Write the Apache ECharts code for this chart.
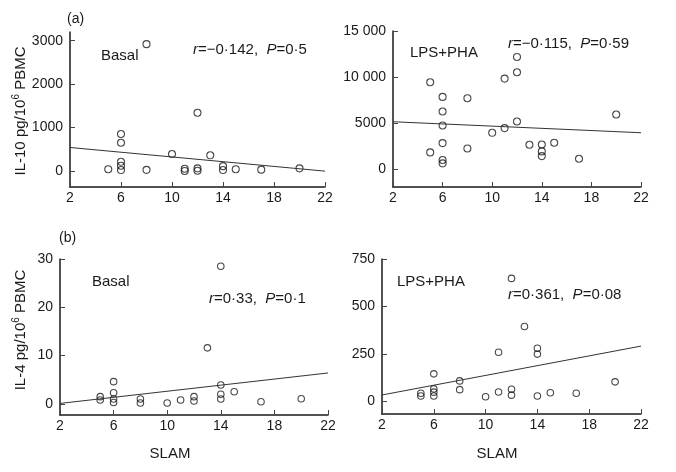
<!DOCTYPE html>
<html>
<head>
<meta charset="utf-8">
<script src="https://cdn.jsdelivr.net/npm/echarts@6/dist/echarts.min.js"></script>
<style>
  html, body { margin: 0; padding: 0; background: #fff; }
  #chart { width: 676px; height: 472px; }
</style>
</head>
<body>
<div id="chart"></div>
<script>
// SLAM score vs cytokine, [slam, value]
const il10Basal = [
  [5, 40], [6, 850], [6, 650], [6, 210], [6, 120], [6, 20], [8, 2920], [8, 25],
  [10, 390], [11, 50], [11, 0], [12, 1340], [12, 60], [12, 5], [13, 360],
  [14, 110], [14, 20], [15, 40], [17, 30], [20, 60]
];
const il10Lps = [
  [5, 9430], [5, 1810], [6, 7840], [6, 6250], [6, 4730], [6, 2820], [6, 980], [6, 620],
  [8, 7700], [8, 2240], [10, 3940], [11, 9830], [11, 4450], [12, 12180], [12, 10520],
  [12, 5170], [13, 2640], [14, 2670], [14, 1920], [14, 1410], [15, 2860], [17, 1120], [20, 5930]
];
const il4Basal = [
  [5, 1.5], [5, 0.8], [6, 4.6], [6, 2.3], [6, 1.0], [6, 0.3], [8, 1.0], [8, 0.2],
  [10, 0.2], [11, 0.8], [12, 1.5], [12, 0.6], [13, 11.6], [14, 28.5], [14, 3.9],
  [14, 2.0], [14, 1.0], [15, 2.5], [17, 0.45], [20, 1.05]
];
const il4Lps = [
  [5, 44], [5, 30], [6, 146], [6, 67], [6, 50], [6, 30], [8, 109], [8, 63], [10, 26],
  [11, 260], [11, 51], [12, 648], [12, 65], [12, 34], [13, 395], [14, 281], [14, 250],
  [14, 30], [15, 47], [17, 44], [20, 104]
];

// regression lines, end points
const fitIl10Basal = [[2, 540], [22, -5]];
const fitIl10Lps = [[2, 5140], [22, 3945]];
const fitIl4Basal = [[2, 0.1], [22, 6.4]];
const fitIl4Lps = [[2, 35], [22, 292]];

const yTicksIl10Basal = [0, 1000, 2000, 3000];
const yTicksIl10Lps = [0, 5000, 10000, 15000];
const yTicksIl4Basal = [0, 10, 20, 30];
const yTicksIl4Lps = [0, 250, 500, 750];

const F = '"Liberation Sans Narrow", "Liberation Sans", Arial, sans-serif';
const FS = '"Liberation Sans", Arial, sans-serif';
const ink = '#1a1a1a';

const grids = [
  { left: 70, top: 32, width: 255, height: 155 },
  { left: 393, top: 31, width: 248, height: 156 },
  { left: 60, top: 259, width: 268, height: 156 },
  { left: 382, top: 259, width: 259, height: 155 }
];

const fmt = v => v >= 10000 ? String(v).replace(/(\d+)(\d{3})$/, '$1 $2') : String(v);

const xAxes = grids.map((g, i) => ({
  type: 'value', gridIndex: i, min: 2, max: 22, interval: 4,
  axisLine: { show: true, onZero: false, lineStyle: { color: ink, width: 1.5 } },
  axisTick: { show: true, inside: true, length: 5, lineStyle: { color: '#444' } },
  axisLabel: { color: ink, fontSize: 14, fontFamily: F, margin: 4, showMinLabel: true, showMaxLabel: true },
  splitLine: { show: false }
}));

const yAxisOf = (i, min, max, ticks) => ({
  type: 'value', gridIndex: i, min, max,
  axisLine: { show: true, onZero: false, lineStyle: { color: ink, width: 1.5 } },
  axisTick: { show: true, inside: true, length: 5, customValues: ticks, lineStyle: { color: '#444' } },
  axisLabel: { customValues: ticks, formatter: fmt, color: ink, fontSize: 14, fontFamily: F, margin: 7 },
  splitLine: { show: false }
});

const yAxes = [
  yAxisOf(0, -370, 3200, yTicksIl10Basal),
  yAxisOf(1, -1950, 15000, yTicksIl10Lps),
  yAxisOf(2, -2.3, 30, yTicksIl4Basal),
  yAxisOf(3, -65, 750, yTicksIl4Lps)
];

const pts = (i, data, size) => ({
  type: 'scatter', xAxisIndex: i, yAxisIndex: i, data,
  symbol: 'circle', symbolSize: size, silent: true,
  itemStyle: { color: 'transparent', borderColor: ink, borderWidth: 1.1 }
});
const fit = (i, data) => ({
  type: 'line', xAxisIndex: i, yAxisIndex: i, data,
  symbol: 'none', silent: true, lineStyle: { color: '#333', width: 1 }
});

const txt = (x, y, text, size, extra) => ({
  type: 'text', x, y, silent: true,
  style: Object.assign({
    text, fontSize: size, fontFamily: FS, fill: ink,
    align: 'left', verticalAlign: 'middle',
    rich: { i: { fontStyle: 'italic', fontSize: size, fontFamily: FS } }
  }, extra || {})
});

const yName = (x, y, text) => ({
  type: 'text', x, y, rotation: Math.PI / 2, silent: true,
  style: {
    text, align: 'center', verticalAlign: 'middle', fill: ink,
    rich: {
      m: { fontSize: 15, fontFamily: FS, lineHeight: 20, fill: ink },
      s: { fontSize: 10, fontFamily: FS, lineHeight: 10, verticalAlign: 'top', fill: ink }
    }
  }
});

const chart = echarts.init(document.getElementById('chart'));
chart.setOption({
  animation: false,
  backgroundColor: '#fff',
  grid: grids,
  xAxis: xAxes,
  yAxis: yAxes,
  series: [
    pts(0, il10Basal, 7), fit(0, fitIl10Basal),
    pts(1, il10Lps, 7), fit(1, fitIl10Lps),
    pts(2, il4Basal, 6.5), fit(2, fitIl4Basal),
    pts(3, il4Lps, 6.5), fit(3, fitIl4Lps)
  ],
  graphic: [
    txt(67, 19, '(a)', 14),
    txt(59, 238, '(b)', 14),
    txt(101, 56, 'Basal', 15),
    txt(193, 50, '{i|r}=\u22120\u00b7142,  {i|P}=0\u00b75', 15),
    txt(410, 53, 'LPS+PHA', 15),
    txt(508, 44, '{i|r}=\u22120\u00b7115,  {i|P}=0\u00b759', 15),
    txt(92, 282, 'Basal', 15),
    txt(209, 299, '{i|r}=0\u00b733,  {i|P}=0\u00b71', 15),
    txt(397, 282, 'LPS+PHA', 15),
    txt(508, 295, '{i|r}=0\u00b7361,  {i|P}=0\u00b708', 15),
    txt(170, 454, 'SLAM', 15, { align: 'center' }),
    txt(497, 454, 'SLAM', 15, { align: 'center' }),
    yName(21, 111, '{m|IL-10 pg/10}{s|6}{m| PBMC}'),
    yName(21, 330, '{m|IL-4 pg/10}{s|6}{m| PBMC}')
  ]
});
</script>
</body>
</html>
